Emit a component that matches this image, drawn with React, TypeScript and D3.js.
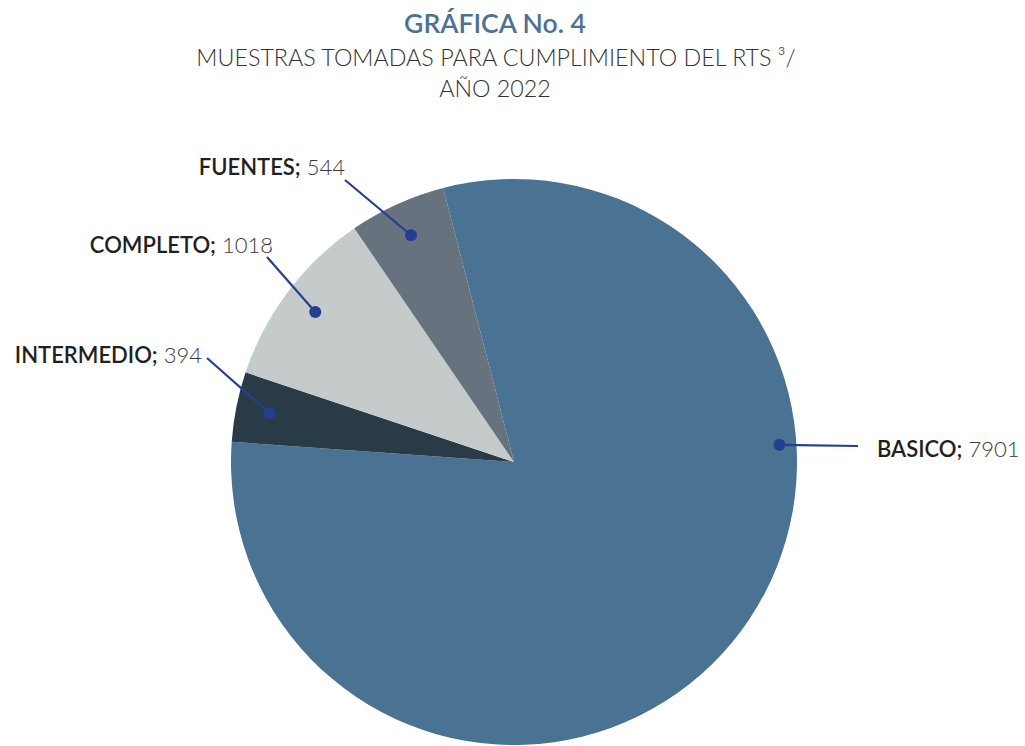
import * as d3 from 'd3'
import React from 'react'

const categories = ['BASICO', 'INTERMEDIO', 'COMPLETO', 'FUENTES']
const values = [7901, 394, 1018, 544]
const colors = ['#4a7292', '#2a3b48', '#c5cacb', '#66737f']

// label layout: text anchor point and where the leader line leaves the text
const labelLayout = [
  { tx: 877, ty: 457, anchor: 'start', lx: 858, ly: 446, angle: 86.3 },
  { tx: 202, ty: 363, anchor: 'end', lx: 207, ly: 358, angle: null },
  { tx: 273, ty: 253, anchor: 'end', lx: 267, ly: 257, angle: null },
  { tx: 345, ty: 175, anchor: 'end', lx: 345, ly: 180, angle: null },
]

const width = 1025
const height = 746
const cx = 514
const cy = 462
const radius = 283

export default function App() {
  const total = d3.sum(values)
  const smallShare = (total - values[0]) / total * 360
  // centre the small slices around the upper left, as in the original
  const start = (-50.2 + smallShare / 2) * Math.PI / 180

  const pie = d3.pie<number>()
    .sort(null)
    .startAngle(start)
    .endAngle(start + 2 * Math.PI)
  const arcs = pie(values)

  const arc = d3.arc<d3.PieArcDatum<number>>()
    .innerRadius(0)
    .outerRadius(radius)

  const dotArc = d3.arc<d3.PieArcDatum<number>>()
    .innerRadius(radius * 0.88)
    .outerRadius(radius * 0.88)

  const dotPos = (d: d3.PieArcDatum<number>, i: number) => {
    const a = labelLayout[i].angle
    if (a !== null) {
      const r = radius * 0.94
      const t = a * Math.PI / 180
      return [r * Math.sin(t), -r * Math.cos(t)]
    }
    return dotArc.centroid(d)
  }

  return (
    <div style={{ position: 'absolute', left: 0, top: 0 }}>
      <svg width={width} height={height} style={{ display: 'block', background: '#fff' }}>
        <g fontFamily="Lato, 'Open Sans', sans-serif" textAnchor="middle">
          <text x={495} y={33} fontSize={26.5} fontWeight={600} fill="#4a7292">GRÁFICA No. 4</text>
          <text x={496} y={66} fontSize={23.3} fontWeight={300} fill="#333">MUESTRAS TOMADAS PARA CUMPLIMIENTO DEL RTS ³/</text>
          <text x={495} y={97} fontSize={23.3} fontWeight={300} fill="#333">AÑO 2022</text>
        </g>
        <g transform={`translate(${cx},${cy})`}>
          {arcs.map((d, i) => (
            <path key={categories[i]} d={arc(d) || ''} fill={colors[i]} />
          ))}
        </g>
        <g fontFamily="Lato, 'Open Sans', sans-serif" fontSize={22}>
          {arcs.map((d, i) => {
            const [px, py] = dotPos(d, i)
            const l = labelLayout[i]
            return (
              <g key={categories[i]}>
                <line x1={cx + px} y1={cy + py} x2={l.lx} y2={l.ly} stroke="#233f8f" strokeWidth={2.2} />
                <circle cx={cx + px} cy={cy + py} r={6} fill="#233f8f" />
                <text x={l.tx} y={l.ty} textAnchor={l.anchor}>
                  <tspan fontWeight={600} fill="#231f20">{categories[i]};</tspan>
                  <tspan fontWeight={300} fill="#3a3a3a">{' ' + values[i]}</tspan>
                </text>
              </g>
            )
          })}
        </g>
      </svg>
    </div>
  )
}
